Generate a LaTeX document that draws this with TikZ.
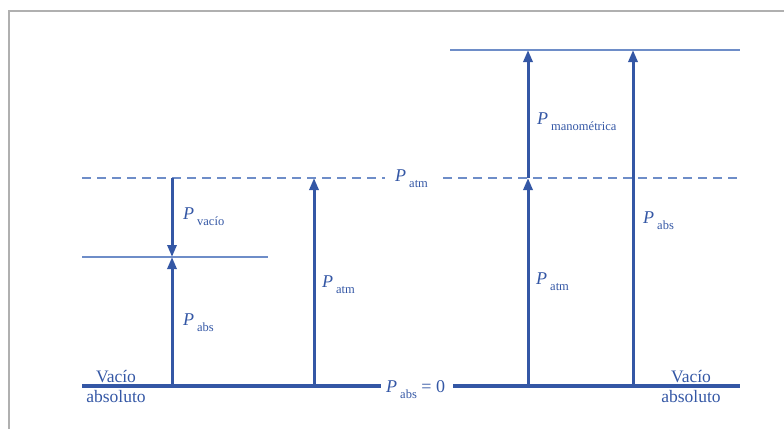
\documentclass[tikz,border=0pt]{standalone}
\usepackage{fontspec}
\setmainfont{Liberation Serif}
\usetikzlibrary{arrows.meta, positioning}
\definecolor{pblue}{HTML}{3457A5}
\definecolor{plight}{HTML}{6E8DC8}
\definecolor{pgrey}{HTML}{B0B0B0}
\tikzset{
  every picture/.style={x=1pt, y=-1pt},
  base/.style={draw=pblue, line width=3.2pt},
  level/.style={draw=plight, line width=2.8pt},
  atmline/.style={draw=plight, line width=2pt, dash pattern=on 9pt off 6pt},
  arrow/.style={-{Triangle[length=12pt, width=9pt]}, draw=pblue, line width=3pt},
  lbl/.style={text=pblue, anchor=base west, inner sep=0pt},
  word/.style={text=pblue, anchor=base, inner sep=0pt, font=\fontsize{17.5}{20}\selectfont},
  frame/.style={draw=pgrey, line width=1.2pt},
}
\newcommand{\pres}[1]{{\fontsize{18}{18}\selectfont\itshape P}\kern3pt\raisebox{-6pt}{\fontsize{12.5}{13}\selectfont #1}}

\begin{document}
\begin{tikzpicture}
  \useasboundingbox (0,0) rectangle (784,429);
  \draw[frame] (9,429) -- (9,11) -- (784,11);
  % levels
  \coordinate (bL) at (82,386);
  \coordinate (bR) at (740,386);
  \coordinate (aL) at (82,178);
  \coordinate (aR) at (738,178);
  \coordinate (vL) at (82,257);
  \coordinate (vR) at (268,257);
  \coordinate (tL) at (450,50);
  \coordinate (tR) at (740,50);
  \node[lbl, inner xsep=5pt] (pzero) at (381,392) {\pres{abs}\fontsize{18}{18}\selectfont\ =\ 0\kern3pt};
  \node[lbl, inner xsep=10pt] (patm) at (385,181) {\pres{atm}\kern5pt};
  \draw[base] (bL) -- (bL -| pzero.west);
  \draw[base] (bL -| pzero.east) -- (bR);
  \draw[atmline] (aL) -- (aL -| patm.west);
  \draw[atmline] (aL -| patm.east) -- (aR);
  \draw[level] (vL) -- (vR);
  \draw[level] (tL) -- (tR);
  % arrows
  \coordinate (x1a) at (172,178); \coordinate (x1v) at (172,257); \coordinate (x1b) at (172,386);
  \coordinate (x2a) at (314,178); \coordinate (x2b) at (314,386);
  \coordinate (x3t) at (528,50); \coordinate (x3a) at (528,178); \coordinate (x3b) at (528,386);
  \coordinate (x4t) at (633,50); \coordinate (x4b) at (633,386);
  \draw[arrow] (x1a) -- (x1v);
  \draw[arrow] (x1b) -- (x1v);
  \draw[arrow] (x2b) -- (x2a);
  \draw[arrow] (x3b) -- (x3a);
  \draw[arrow] (x3a) -- (x3t);
  \draw[arrow] (x4b) -- (x4t);
  % labels
  \node[lbl] (lvac) at (183,219) {\pres{vacío}};
  \node[lbl] (labsL) at (183,325) {\pres{abs}};
  \node[lbl] (latmL) at (322,287) {\pres{atm}};
  \node[lbl] (lman) at (537,124) {\pres{manométrica}};
  \node[lbl] (latmR) at (536,284) {\pres{atm}};
  \node[lbl] (labsR) at (643,223) {\pres{abs}};
  \node[word] (vacL) at (116,382) {Vacío};
  \node[word] (absL) at (116,402) {absoluto};
  \node[word] (vacR) at (691,382) {Vacío};
  \node[word] (absR) at (691,402) {absoluto};
\end{tikzpicture}
\end{document}
